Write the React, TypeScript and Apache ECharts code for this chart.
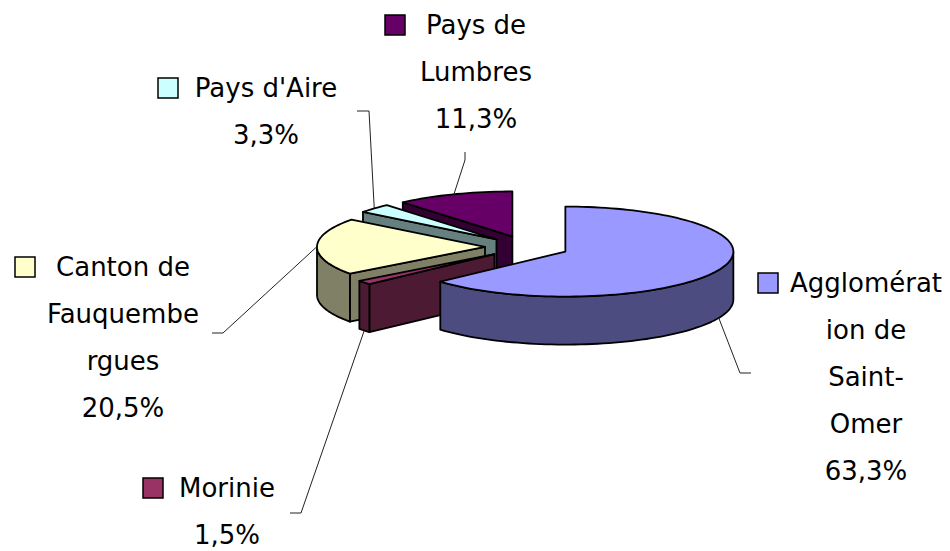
import React, { useEffect, useRef } from "react";
import * as echarts from "echarts";

// ---- data ----
const categories = [
  "Agglomération de Saint-Omer",
  "Morinie",
  "Canton de Fauquembergues",
  "Pays d'Aire",
  "Pays de Lumbres",
];
const shares = [63.3, 1.5, 20.5, 3.3, 11.3];
const percentLabels = ["63,3%", "1,5%", "20,5%", "3,3%", "11,3%"];
const wrappedNames = [
  "Agglomérat\nion de\nSaint-\nOmer",
  "Morinie",
  "Canton de\nFauquembe\nrgues",
  "Pays d'Aire",
  "Pays de\nLumbres",
];

// ---- styles ----
const topColors = ["#9999FF", "#993366", "#FFFFCC", "#CCFFFF", "#660066"];
const sideColors = ["#4C4C80", "#4D1A33", "#808066", "#668080", "#330033"];

// ---- layout ----
const CX = 527;
const CY = 247;
const RX = 168;
const RY = 45;
const DEPTH = 48;
const EXPLODE = 0.25;
const FONT_SIZE = 26;
const LINE_H = 47;
// label text centre x, first-line centre y, legend-key x, leader elbow & end
const labelLayout = [
  { x: 866, y: 283, keyX: 758, elbow: [740, 373], end: [751, 373] },
  { x: 227, y: 488, keyX: 143, elbow: [301, 513], end: [290, 513] },
  { x: 123, y: 267, keyX: 15, elbow: [223, 333], end: [212, 333] },
  { x: 266, y: 88, keyX: 158, elbow: [369, 111], end: [357, 111] },
  { x: 476, y: 25, keyX: 385, elbow: [465, 160], end: [465, 152] },
];

const total = shares.reduce((a, b) => a + b, 0);
const starts: number[] = [];
{
  let acc = 0;
  for (const v of shares) {
    starts.push((acc / total) * Math.PI * 2);
    acc += v;
  }
}

function renderItem(params: any, api: any) {
  const i = params.dataIndex;
  const v = api.value(0);
  const a0 = starts[i];
  const a1 = a0 + (v / total) * Math.PI * 2;
  const mid = (a0 + a1) / 2;
  const ox = CX + EXPLODE * RX * Math.sin(mid);
  const oy = CY - EXPLODE * RY * Math.cos(mid);
  const P = (a: number, dz = 0): number[] => [
    ox + RX * Math.sin(a),
    oy - RY * Math.cos(a) + dz,
  ];
  const arc = (from: number, to: number, dz = 0) => {
    const pts: number[][] = [];
    const n = Math.max(2, Math.ceil(((to - from) * 180) / Math.PI / 2));
    for (let k = 0; k <= n; k++) pts.push(P(from + ((to - from) * k) / n, dz));
    return pts;
  };
  const stroke = { stroke: "#000", lineWidth: 1.8, lineJoin: "round" };
  const meanY = (pts: number[][]) =>
    pts.reduce((s, p) => s + p[1], 0) / pts.length;
  const children: any[] = [];

  // radial walls
  if (Math.sin(a0) < 0) {
    const r = P(a0);
    const pts = [[ox, oy], r, [r[0], r[1] + DEPTH], [ox, oy + DEPTH]];
    children.push({
      type: "polygon",
      z2: Math.round(meanY(pts)),
      shape: { points: pts },
      style: { fill: sideColors[i], ...stroke },
    });
  }
  if (Math.sin(a1) > 0) {
    const r = P(a1);
    const pts = [[ox, oy], r, [r[0], r[1] + DEPTH], [ox, oy + DEPTH]];
    children.push({
      type: "polygon",
      z2: Math.round(meanY(pts)),
      shape: { points: pts },
      style: { fill: sideColors[i], ...stroke },
    });
  }
  // outer wall (front half only)
  const f0 = Math.max(a0, Math.PI / 2);
  const f1 = Math.min(a1, (Math.PI * 3) / 2);
  if (f1 > f0) {
    const top = arc(f0, f1);
    const bottom = arc(f0, f1, DEPTH).reverse();
    const pts = top.concat(bottom);
    children.push({
      type: "polygon",
      z2: Math.round(meanY(pts)),
      shape: { points: pts },
      style: { fill: sideColors[i], ...stroke },
    });
  }
  // top face
  children.push({
    type: "polygon",
    z2: 1000,
    shape: { points: [[ox, oy]].concat(arc(a0, a1)) },
    style: { fill: topColors[i], ...stroke },
  });

  // leader line
  const L = labelLayout[i];
  const front = -Math.cos(mid) > 0;
  const s = P(mid, front ? DEPTH : 0);
  children.push({
    type: "polyline",
    z2: 1100,
    shape: { points: [s, L.elbow, L.end] },
    style: { stroke: "#222", lineWidth: 1, fill: null },
  });

  // label
  children.push({
    type: "rect",
    z2: 1100,
    shape: { x: L.keyX, y: L.y - 10, width: 20, height: 20 },
    style: { fill: topColors[i], stroke: "#000", lineWidth: 1.5 },
  });
  children.push({
    type: "text",
    z2: 1100,
    x: L.x,
    y: L.y - LINE_H / 2,
    style: {
      text: wrappedNames[i] + "\n" + percentLabels[i],
      fill: "#000",
      fontFamily: "DejaVu Sans",
      fontSize: FONT_SIZE,
      lineHeight: LINE_H,
      align: "center",
      verticalAlign: "top",
    },
  });

  return { type: "group", children };
}

export default function App() {
  const ref = useRef<HTMLDivElement>(null);
  useEffect(() => {
    if (!ref.current) return;
    const chart = echarts.init(ref.current, null, { renderer: "svg" });
    chart.setOption({
      animation: false,
      backgroundColor: "#ffffff",
      series: [
        {
          type: "custom",
          coordinateSystem: "none",
          renderItem,
          data: shares.map((v, k) => ({ name: categories[k], value: [v] })),
        },
      ],
    });
    return () => chart.dispose();
  }, []);
  return (
    <div
      ref={ref}
      style={{ position: "fixed", left: 0, top: 0, width: 950, height: 551 }}
    />
  );
}
